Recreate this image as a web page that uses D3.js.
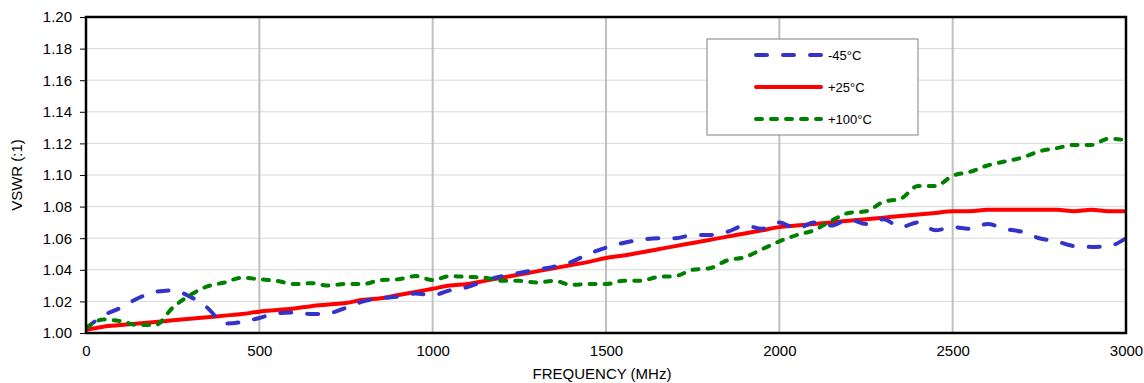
<!DOCTYPE html>
<html lang="en">
<head>
<meta charset="UTF-8">
<title>VSWR vs Frequency</title>
<script src="https://cdn.jsdelivr.net/npm/d3@7"></script>
<style>
  body { margin: 0; background: #fff; }
  svg { display: block; font-family: "Liberation Sans", Arial, sans-serif; }
</style>
</head>
<body>
<svg id="chart" width="1144" height="383"></svg>
<script>
// frequency samples (MHz), every 50 MHz
var freq = d3.range(0, 3001, 50);

// -45°C
var vswrCold = [
  1.003, 1.011, 1.016, 1.022, 1.026, 1.027, 1.023, 1.016, 1.006, 1.007,
  1.0095, 1.0125, 1.013, 1.012, 1.0125, 1.016, 1.020, 1.022, 1.023, 1.025,
  1.024, 1.027, 1.029, 1.033, 1.036, 1.038, 1.040, 1.042, 1.045, 1.050,
  1.054, 1.057, 1.059, 1.060, 1.060, 1.062, 1.062, 1.064, 1.068, 1.066,
  1.070, 1.066, 1.070, 1.068, 1.072, 1.069, 1.072, 1.067, 1.070, 1.065,
  1.067, 1.066, 1.069, 1.066, 1.064, 1.060, 1.058, 1.055, 1.0545, 1.055,
  1.060
];
// +25°C
var vswrRoom = [
  1.002, 1.004, 1.005, 1.006, 1.007, 1.008, 1.009, 1.010, 1.011, 1.012,
  1.0135, 1.0145, 1.0155, 1.017, 1.018, 1.019, 1.021, 1.022, 1.024, 1.026,
  1.028, 1.030, 1.031, 1.033, 1.035, 1.037, 1.039, 1.041, 1.043, 1.045,
  1.0475, 1.049, 1.051, 1.053, 1.055, 1.057, 1.059, 1.061, 1.063, 1.065,
  1.067, 1.068, 1.069, 1.070, 1.071, 1.072, 1.073, 1.074, 1.075, 1.076,
  1.077, 1.077, 1.078, 1.078, 1.078, 1.078, 1.078, 1.077, 1.078, 1.077,
  1.077
];
// +100°C
var vswrHot = [
  1.003, 1.0085, 1.0075, 1.005, 1.005, 1.016, 1.024, 1.0295, 1.032, 1.035,
  1.034, 1.033, 1.031, 1.0315, 1.030, 1.031, 1.031, 1.0335, 1.034, 1.036,
  1.0335, 1.036, 1.0355, 1.035, 1.033, 1.033, 1.032, 1.033, 1.0305, 1.031,
  1.031, 1.033, 1.033, 1.0355, 1.036, 1.040, 1.041, 1.046, 1.048, 1.053,
  1.058, 1.062, 1.065, 1.071, 1.076, 1.077, 1.083, 1.085, 1.093, 1.093,
  1.0995, 1.102, 1.106, 1.1085, 1.111, 1.115, 1.117, 1.119, 1.119, 1.123,
  1.122
];

var xTicks = [0, 500, 1000, 1500, 2000, 2500, 3000];
var yTicks = d3.range(1.00, 1.2001, 0.02);

var series = [
  { name: "-45°C", values: vswrCold, color: "#3333cc", dash: "11,16" },
  { name: "+25°C", values: vswrRoom, color: "#ff0000", dash: null },
  { name: "+100°C", values: vswrHot, color: "#008000", dash: "6,9" }
];

var margin = { top: 17, right: 18, bottom: 50, left: 86 };
var svg = d3.select("#chart");
var width = +svg.attr("width") - margin.left - margin.right;
var height = +svg.attr("height") - margin.top - margin.bottom;

var x = d3.scaleLinear().domain([0, 3000]).range([0, width]);
var y = d3.scaleLinear().domain([1.0, 1.2]).range([height, 0]);

var g = svg.append("g").attr("transform", "translate(" + margin.left + "," + margin.top + ")");

// horizontal grid
g.append("g").selectAll("line").data(yTicks.slice(1)).join("line")
  .attr("x1", 0).attr("x2", width)
  .attr("y1", function (d) { return y(d); }).attr("y2", function (d) { return y(d); })
  .attr("stroke", "#d9d9d9").attr("stroke-width", 1);

// vertical grid (heavier)
g.append("g").selectAll("line").data(xTicks.slice(1, -1)).join("line")
  .attr("x1", function (d) { return x(d); }).attr("x2", function (d) { return x(d); })
  .attr("y1", 0).attr("y2", height)
  .attr("stroke", "#c0c0c0").attr("stroke-width", 2);

// y axis
var yAxis = g.append("g")
  .call(d3.axisLeft(y).tickValues(yTicks).tickFormat(d3.format(".2f")).tickSize(6).tickPadding(8));
yAxis.select(".domain").remove();
yAxis.selectAll(".tick line").attr("stroke", "#000").attr("stroke-width", 1);
yAxis.selectAll("text").attr("font-size", 15).attr("fill", "#000")
  .attr("font-family", "Liberation Sans, Arial, sans-serif");

// x axis
var xAxis = g.append("g").attr("transform", "translate(0," + height + ")")
  .call(d3.axisBottom(x).tickValues(xTicks).tickFormat(d3.format("d")).tickSize(0).tickPadding(12));
xAxis.select(".domain").remove();
xAxis.selectAll("text").attr("font-size", 15).attr("fill", "#000")
  .attr("font-family", "Liberation Sans, Arial, sans-serif");

// series
var line = d3.line()
  .x(function (d, i) { return x(freq[i]); })
  .y(function (d) { return y(d); })
  .curve(d3.curveMonotoneX);

svg.append("defs").append("clipPath").attr("id", "plot-clip")
  .append("rect").attr("x", 0).attr("y", -2).attr("width", width).attr("height", height + 2);

var plot = g.append("g").attr("clip-path", "url(#plot-clip)");
// red first so the dashed ones sit on top
[series[1], series[0], series[2]].forEach(function (s) {
  plot.append("path")
    .datum(s.values)
    .attr("d", line)
    .attr("fill", "none")
    .attr("stroke", s.color)
    .attr("stroke-width", 4)
    .attr("stroke-linecap", "round")
    .attr("stroke-linejoin", "round")
    .attr("stroke-dasharray", s.dash);
});

// frame
g.append("rect").attr("x", 0).attr("y", 0).attr("width", width).attr("height", height)
  .attr("fill", "none").attr("stroke", "#000").attr("stroke-width", 2.5);

// axis titles
svg.append("text")
  .attr("transform", "translate(18," + (margin.top + height / 2) + ") rotate(-90)")
  .attr("text-anchor", "middle").attr("dominant-baseline", "middle")
  .attr("font-size", 15).text("VSWR (:1)");
svg.append("text")
  .attr("x", margin.left + width / 2 - 4).attr("y", 379)
  .attr("text-anchor", "middle").attr("font-size", 15).text("FREQUENCY (MHz)");

// legend
var legend = svg.append("g").attr("transform", "translate(707,39)");
legend.append("rect").attr("width", 211).attr("height", 96)
  .attr("fill", "#fff").attr("stroke", "#808080").attr("stroke-width", 1);
series.forEach(function (s, i) {
  var ly = 16 + i * 32;
  legend.append("line")
    .attr("x1", 49).attr("x2", 114).attr("y1", ly).attr("y2", ly)
    .attr("stroke", s.color).attr("stroke-width", 4)
    .attr("stroke-linecap", "round")
    .attr("stroke-dasharray", s.dash);
  legend.append("text").attr("x", 121).attr("y", ly).attr("dy", "0.35em")
    .attr("font-size", 13).text(s.name);
});
</script>
</body>
</html>
